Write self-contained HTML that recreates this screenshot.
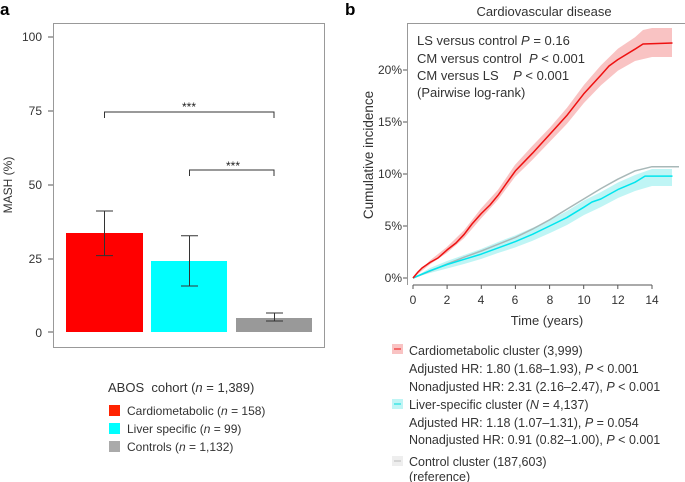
<!DOCTYPE html>
<html><head><style>
body{margin:0;background:#fff;}
svg{display:block;font-family:"Liberation Sans",sans-serif;}
</style></head><body>
<svg width="685" height="482" viewBox="0 0 685 482">
<text x="0" y="15" font-size="17" font-weight="bold">a</text>
<rect x="53.5" y="23.5" width="271" height="324" fill="none" stroke="#999" stroke-width="1"/>
<g font-size="12" fill="#333" text-anchor="end">
<text x="42" y="41">100</text><text x="42" y="115">75</text><text x="42" y="189">50</text><text x="42" y="263">25</text><text x="42" y="337">0</text>
</g>
<g stroke="#555"><line x1="48" y1="37" x2="53" y2="37"/><line x1="48" y1="111" x2="53" y2="111"/><line x1="48" y1="185" x2="53" y2="185"/><line x1="48" y1="259" x2="53" y2="259"/><line x1="48" y1="332" x2="53" y2="332"/></g>
<text transform="translate(12,185) rotate(-90)" font-size="12" fill="#333" text-anchor="middle">MASH (%)</text>
<rect x="66" y="233" width="77" height="99" fill="#ff0000"/>
<rect x="151" y="261" width="76" height="71" fill="#00ffff"/>
<rect x="236" y="318" width="76" height="14" fill="#999"/>
<g stroke="#333" fill="none">
<path d="M96 211H113M104.5 211V255.6M96 255.6H113"/>
<path d="M181 235.7H198M189.5 235.7V286M181 286H198"/>
<path d="M266 313H283M274.5 313V321M266 321H283"/>
<path d="M104.5 118V112H274V118"/>
<path d="M189.5 176V170H274V176"/>
</g>
<text x="189" y="111" font-size="12" text-anchor="middle" fill="#222">***</text>
<text x="233" y="170" font-size="12" text-anchor="middle" fill="#222">***</text>
<text x="108" y="392" font-size="13" fill="#333">ABOS&#160; cohort (<tspan font-style="italic">n</tspan> = 1,389)</text>
<rect x="109" y="405" width="11" height="11" fill="#f20"/>
<rect x="109" y="423" width="11" height="11" fill="#00ffff"/>
<rect x="109" y="441" width="11" height="11" fill="#aaa"/>
<g font-size="12" fill="#333">
<text x="127" y="415">Cardiometabolic (<tspan font-style="italic">n</tspan> = 158)</text>
<text x="127" y="433">Liver specific (<tspan font-style="italic">n</tspan> = 99)</text>
<text x="127" y="451">Controls (<tspan font-style="italic">n</tspan> = 1,132)</text>
</g>

<text x="345" y="15" font-size="17" font-weight="bold">b</text>
<text x="544" y="16" font-size="13" fill="#333" text-anchor="middle">Cardiovascular disease</text>
<path d="M407.5 285V23.5H685" fill="none" stroke="#999"/>
<g font-size="12" fill="#333" text-anchor="end">
<text x="402" y="74">20%</text><text x="402" y="126">15%</text><text x="402" y="178">10%</text><text x="402" y="230">5%</text><text x="402" y="282">0%</text>
</g>
<g stroke="#555"><line x1="403" y1="70" x2="407" y2="70"/><line x1="403" y1="122" x2="407" y2="122"/><line x1="403" y1="174" x2="407" y2="174"/><line x1="403" y1="226" x2="407" y2="226"/><line x1="403" y1="278" x2="407" y2="278"/>
<line x1="413" y1="285" x2="652" y2="285"/>
<path d="M413 285v4M447.1 285v4M481.3 285v4M515.4 285v4M549.6 285v4M583.7 285v4M617.8 285v4M652 285v4"/></g>
<g font-size="12" fill="#333" text-anchor="middle">
<text x="413" y="304">0</text><text x="447" y="304">2</text><text x="481" y="304">4</text><text x="515" y="304">6</text><text x="550" y="304">8</text><text x="584" y="304">10</text><text x="618" y="304">12</text><text x="652" y="304">14</text>
</g>
<text x="547" y="325" font-size="13" fill="#333" text-anchor="middle">Time (years)</text>
<text transform="translate(373,155) rotate(-90)" font-size="13.5" fill="#333" text-anchor="middle">Cumulative incidence</text>
<g fill="none" stroke-linejoin="round">
<polygon points="413,278 430,260.4 447,246.9 464,230.3 481,208.5 498,189.8 515,164.9 532,146.2 550,127.5 567,107.8 584,84.9 601,65.2 618,48.6 635,37.2 643,30 652,28 672,28 672,57 652,57 635,61 618,70.6 601,85.2 584,102.9 567,123.8 550,141.5 532,160.2 515,176.9 498,199.8 481,218.5 464,238.3 447,252.9 430,264.4" fill="#f9c3c3" stroke="none"/>
<polygon points="413,278 430,268 447,261 464,255 481,249 498,242 515,235.5 532,228 550,220 567,211 584,200.5 601,192 618,182.5 635,175 652,169 672,169 672,186 652,186 635,191 618,198 601,207 584,215 567,225 550,233 532,241 515,247.5 498,253 481,259 464,264 447,268.5 430,273" fill="#bff5f5" stroke="none"/>
<polyline points="413,278 430.1,271.2 447.1,264 464.2,257.2 481.3,251 498.4,244.2 515.4,237.4 532.5,229.1 549.6,219.8 566.6,209.4 583.7,199 600.8,188.6 617.8,179.2 634.9,170.9 652,166.7 679,166.7" stroke="#a8b8b8" stroke-width="1.5"/>
<polyline points="413,278 430.1,270.7 447.1,264.5 464.2,259.3 481.3,254.1 498.4,247.8 515.4,241.6 532.5,234.3 549.6,226 566.6,217.7 583.7,207.3 592,202 600.8,199 617.8,189.6 634.9,182.3 645,176.1 672.5,176.1" stroke="#00e5ee" stroke-width="1.5"/>
<polyline points="413,278 418,272 422,268 430.1,262.4 438,258 447.1,249.9 456,243 464.2,234.3 472,224 481.3,213.5 490,205 498.4,194.8 506,184 515.4,170.9 532.5,153.2 549.6,134.5 566.6,115.8 583.7,93.9 600.8,75.2 609,66 617.8,59.6 634.9,49.2 643,44 672.5,43" stroke="#ee1111" stroke-width="1.5"/>
</g>
<g font-size="13" fill="#333">
<text x="417" y="45">LS versus control <tspan font-style="italic">P</tspan> = 0.16</text>
<text x="417" y="63">CM versus control&#160; <tspan font-style="italic">P</tspan> &lt; 0.001</text>
<text x="417" y="80">CM versus LS&#160;&#160;&#160;&#160;<tspan font-style="italic">P</tspan> &lt; 0.001</text>
<text x="417" y="97">(Pairwise log-rank)</text>
</g>
<rect x="392" y="344" width="11" height="10" fill="#f9c3c3"/><line x1="394" y1="349" x2="401" y2="349" stroke="#e11"/>
<rect x="392" y="399" width="11" height="10" fill="#bff5f5"/><line x1="394" y1="404" x2="401" y2="404" stroke="#0dd"/>
<rect x="392" y="456" width="11" height="10" fill="#eee"/><line x1="394" y1="461" x2="401" y2="461" stroke="#bbb"/>
<g font-size="12.5" fill="#333">
<text x="409" y="355">Cardiometabolic cluster (3,999)</text>
<text x="409" y="373">Adjusted HR: 1.80 (1.68–1.93), <tspan font-style="italic">P</tspan> &lt; 0.001</text>
<text x="409" y="391">Nonadjusted HR: 2.31 (2.16–2.47), <tspan font-style="italic">P</tspan> &lt; 0.001</text>
<text x="409" y="409">Liver-specific cluster (<tspan font-style="italic">N</tspan> = 4,137)</text>
<text x="409" y="427">Adjusted HR: 1.18 (1.07–1.31), <tspan font-style="italic">P</tspan> = 0.054</text>
<text x="409" y="444">Nonadjusted HR: 0.91 (0.82–1.00), <tspan font-style="italic">P</tspan> &lt; 0.001</text>
<text x="409" y="466">Control cluster (187,603)</text>
<text x="409" y="481">(reference)</text>
</g>
</svg>
</body></html>
